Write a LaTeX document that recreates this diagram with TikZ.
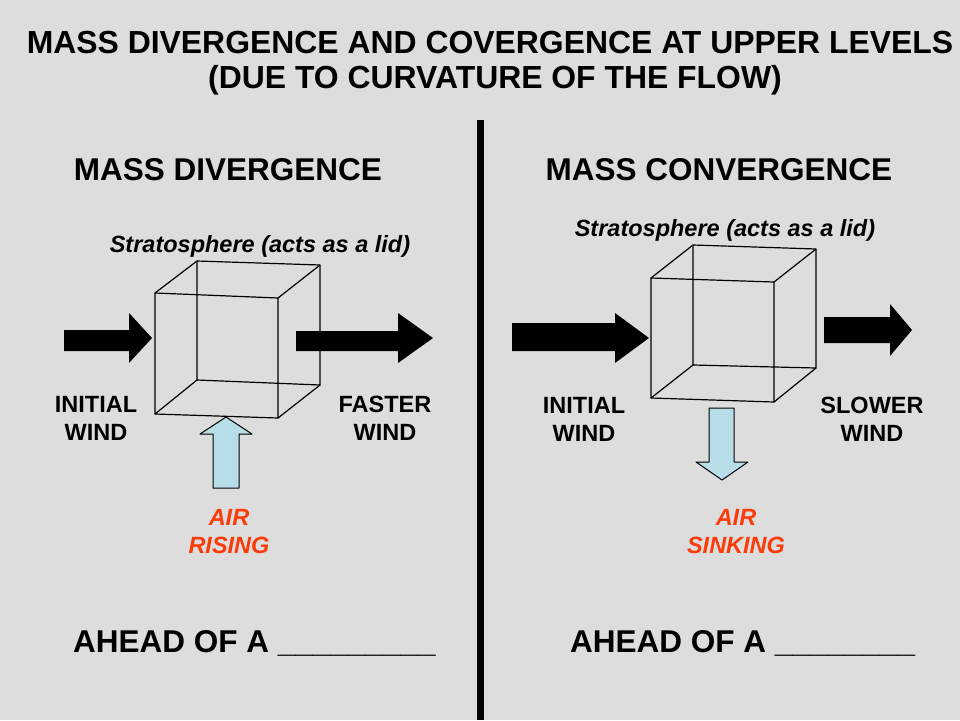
\documentclass[tikz,border=0pt]{standalone}
\usepackage{fontspec}
\setmainfont{Liberation Sans}
\definecolor{bgray}{RGB}{221,221,221}
\definecolor{airred}{RGB}{250,60,10}
\definecolor{airblue}{RGB}{183,222,232}

\begin{document}
\begin{tikzpicture}[line cap=round,line join=round,x=1pt,y=-1pt,
big/.style={font=\fontsize{31.5}{35}\selectfont\bfseries,anchor=base,inner sep=0pt},
small/.style={font=\fontsize{23.5}{28}\selectfont\bfseries,align=center,anchor=base,inner sep=0pt},
lid/.style={font=\fontsize{23.5}{28}\selectfont\bfseries\itshape,anchor=base,inner sep=0pt},
air/.style={small,text=airred,font=\fontsize{23.5}{28}\selectfont\bfseries\itshape},
cube/.style={line width=1.2pt},
wind/.style={fill=black},
vert/.style={fill=airblue,draw=black,line width=1pt}]
% Nền xám và khung hình
\fill[bgray] (0,0) rectangle (960,720);
\useasboundingbox (0,0) rectangle (960,720);
% Tiêu đề
\node[big,font=\fontsize{31.9}{35}\selectfont\bfseries] (title1) at (490,53) {MASS DIVERGENCE AND COVERGENCE AT UPPER LEVELS};
\node[big,font=\fontsize{31.9}{35}\selectfont\bfseries] (title2) at (495,88) {(DUE TO CURVATURE OF THE FLOW)};
% Đường chia đôi
\draw[line width=7pt,line cap=butt] (480,120) -- (480,720);
\node[big] (divhead) at (228,180) {MASS DIVERGENCE};
\node[big] (convhead) at (719,180) {MASS CONVERGENCE};

%Vẽ khối lập phương bên trái
\draw[cube] (155,293) -- (278,298) -- (278,418) -- (155,414) -- (155,293);
\draw[cube] (197,261) -- (320,265) -- (320,385) -- (197,380) -- (197,261);
\draw[cube] (155,293) -- (197,261);
\draw[cube] (278,298) -- (320,265);
\draw[cube] (278,418) -- (320,385);
\draw[cube] (155,414) -- (197,380);
\node[lid] (lidL) at (260,252) {Stratosphere (acts as a lid)};
% Mũi tên gió
\fill[wind] (64,330) -- (129,330) -- (129,313) -- (152,338) -- (129,363) -- (129,351) -- (64,351) -- cycle;
\fill[wind] (296,331) -- (398,331) -- (398,313) -- (433,338) -- (398,363) -- (398,351) -- (296,351) -- cycle;
\draw[vert] (213,488) -- (213,434) -- (200,434) -- (226,417) -- (252,434) -- (239,434) -- (239,488) -- cycle;
% (điểm base = dòng cuối)
\node[small] (initL) at (96,440) {INITIAL\\WIND};
\node[small] (fastL) at (385,440) {FASTER\\WIND};
\node[air] (airL) at (229,553) {AIR\\RISING};
\node[big,anchor=base west] (aheadL) at (73,652) {AHEAD OF A \_\_\_\_\_\_\_\_\_};

%Vẽ khối lập phương bên phải
\draw[cube] (651,278) -- (774,282) -- (774,402) -- (651,398) -- (651,278);
\draw[cube] (693,245) -- (816,249) -- (816,368) -- (693,365) -- (693,245);
\draw[cube] (651,278) -- (693,245);
\draw[cube] (774,282) -- (816,249);
\draw[cube] (774,402) -- (816,368);
\draw[cube] (651,398) -- (693,365);
\node[lid] (lidR) at (725,236) {Stratosphere (acts as a lid)};
% Mũi tên gió
\fill[wind] (512,323) -- (615,323) -- (615,313) -- (649,338) -- (615,363) -- (615,351) -- (512,351) -- cycle;
\fill[wind] (824,317) -- (890,317) -- (890,304) -- (912,330) -- (890,356) -- (890,343) -- (824,343) -- cycle;
\draw[vert] (709,408) -- (734,408) -- (734,462) -- (748,462) -- (722,480) -- (696,462) -- (709,462) -- cycle;
\node[small] (initR) at (584,441) {INITIAL\\WIND};
\node[small] (slowR) at (872,441) {SLOWER\\WIND};
\node[air] (airR) at (736,553) {AIR\\SINKING};
\node[big,anchor=base west] (aheadR) at (570,652) {AHEAD OF A \_\_\_\_\_\_\_\_};
\end{tikzpicture}
\end{document}
